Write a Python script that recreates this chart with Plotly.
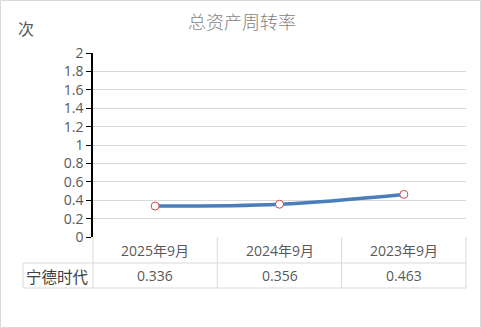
import plotly.graph_objects as go

categories = ["2025年9月", "2024年9月", "2023年9月"]
values = [0.336, 0.356, 0.463]
value_labels = ["0.336", "0.356", "0.463"]
series_name = "宁德时代"
y_ticks = [0, 0.2, 0.4, 0.6, 0.8, 1, 1.2, 1.4, 1.6, 1.8, 2]
y_tick_labels = ["0", "0.2", "0.4", "0.6", "0.8", "1", "1.2", "1.4", "1.6", "1.8", "2"]
title = "总资产周转率"
unit = "次"

FONT = "Noto Sans CJK SC"
NUMFONT = "Open Sans, Noto Sans CJK SC"
GRAY = "#595959"
GRID = "#d9d9d9"

W, H = 481, 328
L, R, T, B = 93, 15, 53, 91
pw, ph = W - L - R, H - T - B

def px_x(px):
    return (px - L) / pw

def px_y(py):
    return (H - B - py) / ph

fig = go.Figure()
xs = list(range(len(categories)))
fig.add_trace(go.Scatter(
    x=xs, y=values, mode="lines+markers",
    line=dict(color="#4a7ebb", width=3.5, shape="spline", smoothing=1),
    marker=dict(symbol="circle", size=8, color="white", line=dict(color="#c0504d", width=1)),
    showlegend=False, hoverinfo="skip",
))

shapes = []
row1 = px_y(263)
row2 = px_y(288)
left_cell = px_x(23)
for yy, x0 in [(row1, left_cell), (row2, left_cell)]:
    shapes.append(dict(type="line", xref="paper", yref="paper", x0=x0, x1=1, y0=yy, y1=yy,
                       line=dict(color=GRID, width=1)))
shapes.append(dict(type="line", xref="paper", yref="paper", x0=left_cell, x1=left_cell, y0=row1, y1=row2,
                   line=dict(color=GRID, width=1)))
for i in range(len(categories) + 1):
    xb = i / len(categories)
    shapes.append(dict(type="line", xref="paper", yref="paper", x0=xb, x1=xb, y0=0, y1=row2,
                       line=dict(color=GRID, width=1)))
shapes.append(dict(type="rect", xref="paper", yref="paper", x0=px_x(0.5), x1=px_x(480.5),
                   y0=px_y(327.5), y1=px_y(0.5), line=dict(color=GRID, width=1)))

def ann(x, xref, y, text, size, color, family=FONT, weight=None):
    f = dict(family=family, size=size, color=color)
    if weight:
        f["weight"] = weight
    return dict(x=x, xref=xref, y=y, yref="paper", text=text, showarrow=False,
                xanchor="center", yanchor="middle", font=f)

annotations = []
for i, c in enumerate(categories):
    annotations.append(ann(i, "x", px_y(250), c, 14, GRAY, NUMFONT))
    annotations.append(ann(i, "x", px_y(275.5), value_labels[i], 14, GRAY, NUMFONT))
annotations.append(ann(px_x(57), "paper", px_y(275.5), series_name, 15.5, "#404040"))
annotations.append(ann(px_x(26), "paper", px_y(28), unit, 16, GRAY))
annotations.append(ann(px_x(242), "paper", px_y(21), title, 18, "#7f7f7f", FONT, 300))

fig.update_layout(
    width=W, height=H, margin=dict(l=L, r=R, t=T, b=B),
    paper_bgcolor="white", plot_bgcolor="white",
    shapes=shapes, annotations=annotations,
    xaxis=dict(range=[-0.5, len(categories) - 0.5], showticklabels=False, showgrid=False,
               zeroline=False, showline=False, ticks=""),
    yaxis=dict(range=[0, 2], tickvals=y_ticks, ticktext=y_tick_labels, showgrid=True, gridcolor=GRID,
               gridwidth=1, zeroline=False, showline=True, linecolor="black", linewidth=1.5,
               ticks="outside", ticklen=5, tickcolor="black",
               tickfont=dict(family=NUMFONT, size=14, color=GRAY)),
)

fig.write_html("out.html")
